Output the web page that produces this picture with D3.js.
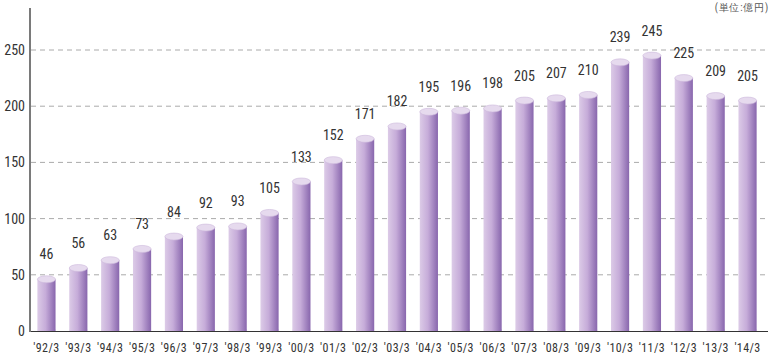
<!DOCTYPE html>
<html>
<head>
<meta charset="utf-8">
<script src="https://cdn.jsdelivr.net/npm/d3@7"></script>
<style>
  body { margin: 0; background: #fff; }
  text { font-family: "Liberation Sans Narrow", "Roboto Condensed", Roboto, sans-serif; }
</style>
</head>
<body>
<div id="chart-area"></div>
<script>
const width = 775, height = 354;

// data
const years = ["'92/3","'93/3","'94/3","'95/3","'96/3","'97/3","'98/3","'99/3","'00/3","'01/3","'02/3","'03/3",
               "'04/3","'05/3","'06/3","'07/3","'08/3","'09/3","'10/3","'11/3","'12/3","'13/3","'14/3"];
const values = [46, 56, 63, 73, 84, 92, 93, 105, 133, 152, 171, 182, 195, 196, 198, 205, 207, 210, 239, 245, 225, 209, 205];
const yTicks = [0, 50, 100, 150, 200, 250];
const unitLabel = "(単位:億円)";

const svg = d3.select("#chart-area")
  .append("svg")
    .attr("width", width)
    .attr("height", height);

//--------------------------- GRADIENT
const defs = svg.append("defs");
const grad = defs.append("linearGradient")
    .attr("id", "barGrad")
    .attr("x1", "0%").attr("x2", "100%").attr("y1", "0%").attr("y2", "0%");
grad.append("stop").attr("offset", "0%").attr("stop-color", "#dccbe7");
grad.append("stop").attr("offset", "45%").attr("stop-color", "#c6acd9");
grad.append("stop").attr("offset", "100%").attr("stop-color", "#8866ad");

//--------------------------- SCALES
const x = d3.scaleBand()
  .domain(years)
  .range([31, 763])
  .paddingInner(0.43)
  .paddingOuter(0.2);

const y = d3.scaleLinear()
  .domain([0, 250])
  .range([331, 50]);

//--------------------------- GRID
svg.append("g")
  .selectAll("line")
  .data(yTicks.filter(d => d > 0))
  .join("line")
    .attr("x1", 31)
    .attr("x2", 768)
    .attr("y1", d => y(d))
    .attr("y2", d => y(d))
    .attr("stroke", "#aaa")
    .attr("stroke-width", 1)
    .attr("stroke-dasharray", "5,4");

// y labels
svg.append("g")
  .selectAll("text")
  .data(yTicks)
  .join("text")
    .attr("x", 25)
    .attr("y", d => y(d) + 5)
    .attr("text-anchor", "end")
    .attr("font-size", 14)
    .attr("fill", "#333")
    .text(d => d);

//--------------------------- BARS
const ry = 3.5;
const bars = svg.append("g")
  .selectAll("g")
  .data(values)
  .join("g");

bars.append("rect")
    .attr("x", (d, i) => x(years[i]))
    .attr("y", d => y(d))
    .attr("width", x.bandwidth())
    .attr("height", d => y(0) - y(d))
    .attr("fill", "url(#barGrad)");

// bottom rounding
bars.append("ellipse")
    .attr("cx", (d, i) => x(years[i]) + x.bandwidth() / 2)
    .attr("cy", y(0) - 1)
    .attr("rx", x.bandwidth() / 2)
    .attr("ry", 1.5)
    .attr("fill", "url(#barGrad)");

// top cap
bars.append("ellipse")
    .attr("cx", (d, i) => x(years[i]) + x.bandwidth() / 2)
    .attr("cy", d => y(d))
    .attr("rx", x.bandwidth() / 2)
    .attr("ry", ry)
    .attr("fill", "#e6daee")
    .attr("stroke", "#cdb8dc")
    .attr("stroke-width", 0.6);

// value labels
bars.append("text")
    .attr("x", (d, i) => x(years[i]) + x.bandwidth() / 2)
    .attr("y", d => y(d) - 20)
    .attr("text-anchor", "middle")
    .attr("font-size", 14)
    .attr("fill", "#333")
    .text(d => d);

//--------------------------- AXES
svg.append("line")
    .attr("x1", 30).attr("x2", 768)
    .attr("y1", y(0) + 0.5).attr("y2", y(0) + 0.5)
    .attr("stroke", "#333")
    .attr("stroke-width", 1.2);

svg.append("line")
    .attr("x1", 30).attr("x2", 30)
    .attr("y1", 8).attr("y2", y(0) + 1)
    .attr("stroke", "#7a7a7a")
    .attr("stroke-width", 2);

// x labels
svg.append("g")
  .selectAll("text")
  .data(years)
  .join("text")
    .attr("x", d => x(d) + x.bandwidth() / 2)
    .attr("y", 352)
    .attr("text-anchor", "middle")
    .attr("font-size", 12)
    .attr("letter-spacing", 0.4)
    .attr("fill", "#333")
    .text(d => d);

// unit
svg.append("text")
    .attr("x", 769)
    .attr("y", 11)
    .attr("text-anchor", "end")
    .attr("font-size", 10)
    .attr("letter-spacing", 0.8)
    .attr("font-family", "'Noto Sans CJK JP', sans-serif")
    .attr("fill", "#555")
    .text(unitLabel);
</script>
</body>
</html>
